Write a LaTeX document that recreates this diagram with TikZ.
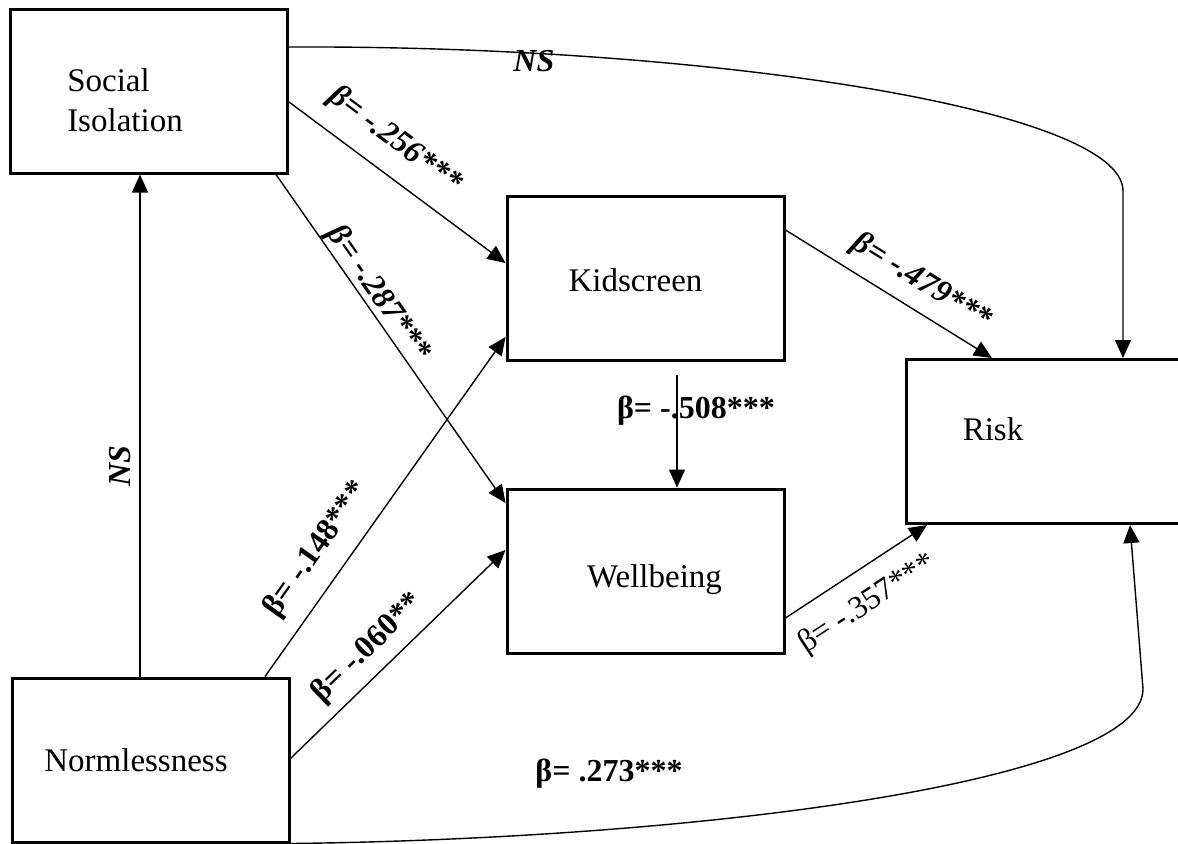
\documentclass[tikz,border=0pt]{standalone}
\usepackage{fontspec}
\setmainfont{Liberation Serif}
\usetikzlibrary{arrows.meta}

\begin{document}
\begin{tikzpicture}[x=0.5pt, y=-0.5pt,
    box/.style={draw, line width=1.5pt, minimum width=138.5pt, minimum height=82pt, inner sep=0pt},
    boxtext/.style={font=\fontsize{16.5}{20}\selectfont, align=left, inner sep=0pt},
    arr/.style={line width=0.7pt, -{Triangle[length=9pt, width=8pt]}},
    coef/.style={font=\fontsize{16}{18}\selectfont\bfseries, inner sep=0pt},
    coefit/.style={coef, font=\fontsize{16}{18}\selectfont\bfseries\itshape},
    coefrm/.style={coef, font=\fontsize{16}{18}\selectfont}]
  \path[use as bounding box, clip] (0,0) rectangle (1178,843);

  \node[box, label={[boxtext, xshift=-12pt, yshift=-4.5pt]center:Social\\Isolation}] (soc) at (149,91) {};
  \node[box, label={[boxtext, xshift=-7.5pt]center:Normlessness}] (norm) at (151,760) {};
  \node[box, label={[boxtext, xshift=-5pt, yshift=-1pt]center:Kidscreen}] (kid) at (645.5,278) {};
  \node[box, label={[boxtext, xshift=4.5pt, yshift=-4.5pt]center:Wellbeing}] (well) at (645.5,571) {};
  \node[box, minimum width=150pt, label={[boxtext, xshift=-31.5pt, yshift=6pt]center:Risk}] (risk) at (1056,441.5) {};

  \draw[arr] ([xshift=-5.5pt]norm.north) -- ([xshift=-4.5pt]soc.south)
    node[coefit, pos=0.42, sloped, above=4pt] {NS};
  \draw[arr] ([yshift=-5.5pt]soc.east) -- ([yshift=7.5pt]kid.west)
    node[coefit, pos=0.40, sloped, above=8.5pt] {β= -.256***};
  \draw[arr] ([xshift=-6.5pt]soc.south east) -- ([yshift=34pt]well.west)
    node[coefit, pos=0.39, sloped, above=0pt] {β= -.287***};
  \draw[arr] ([xshift=-13pt]norm.north east) -- ([yshift=-29.5pt]kid.west)
    node[coef, pos=0.32, sloped, above=8pt] {β= -.148***};
  \draw[arr] ([yshift=1pt]norm.east) -- ([yshift=10.5pt]well.west)
    node[coef, pos=0.44, sloped, above=5pt] {β= -.060**};
  \draw[arr] ([xshift=15.75pt, yshift=-6.5pt]kid.south) -- ([xshift=15.75pt]well.north)
    node[coef, pos=0.32, xshift=9.5pt] {β= -.508***};
  \draw[arr] ([yshift=24pt]kid.east) -- ([xshift=-32pt]risk.north)
    node[coefit, pos=0.59, sloped, above=6pt] {β= -.479***};
  \draw[arr] ([yshift=-23.5pt]well.east) -- ([xshift=-64.5pt]risk.south)
    node[coefrm, pos=0.45, sloped, below=9pt] {β= -.357***};

  \draw[arr] ([yshift=22pt]soc.east) .. controls +(412,-2) and +(0,-83) .. ([xshift=33.5pt, yshift=83.5pt]risk.north)
    node[coefit, pos=0.2, below=-2pt] {NS} -- ([xshift=33.5pt]risk.north);
  \draw[arr] (norm.south east) .. controls +(410,-5) and +(0,93) .. ([xshift=43.5pt, yshift=-82pt]risk.south)
    node[coef, pos=0.26, above=20pt] {β= .273***} -- ([xshift=37pt]risk.south);
\end{tikzpicture}
\end{document}
